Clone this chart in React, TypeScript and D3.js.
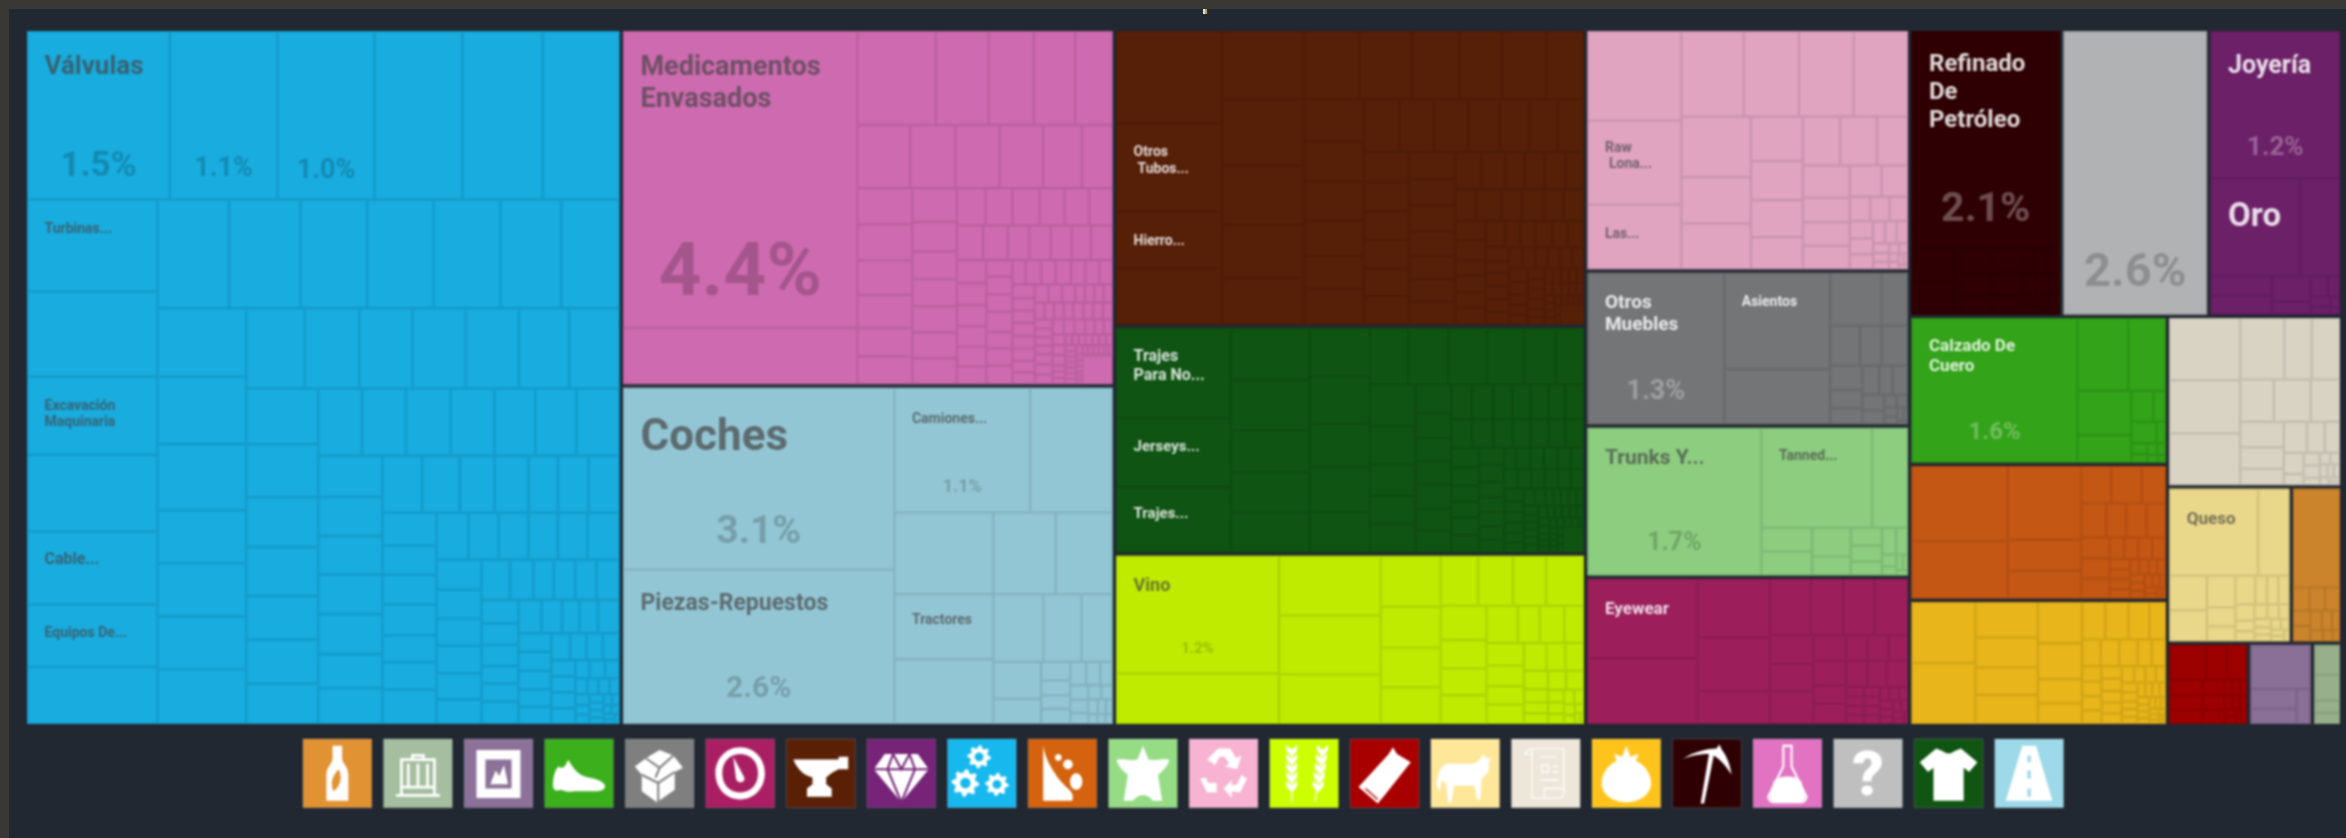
import React from 'react'
import * as d3 from 'd3'

/* page + treemap frame */
const width = 2346
const height = 838
const frame = { left: 27, top: 31, width: 2313, height: 693 }
const groupGap = 3.5

/* leaf shares, thousands of square px read strip by strip, same order as the squarify strips */
const machinery = [
    24.0, 18.1, 16.3, 14.75, 13.5, 12.9,
    11.96, 11.05, 10.18, 9.95, 9.5, 8.1, 7.42,
    7.75, 7.75, 7.2, 7.2, 7.2, 6.6, 6.3,
    6.06, 5.98, 5.85, 4.72, 4.69, 4.69, 4.85,
    4.68, 4.39, 4.25, 4.25, 4.25, 4.03, 4.03,
    4.0, 3.8, 3.59, 3.52, 3.15, 3.12, 2.92,
    2.95, 2.95, 3.0, 2.95, 2.75, 2.75, 2.9,
    2.62, 2.51, 2.48, 2.51, 2.56, 2.18, 2.3,
    2.24, 2.13, 1.96, 1.92, 1.66, 1.73, 1.75,
    1.78, 1.58, 1.6, 1.65, 1.45, 1.48, 1.85,
    1.5, 1.43, 1.4, 1.39, 1.4, 1.5,
    1.33, 1.32, 1.21, 1.23, 1.17, 1.12,
    1.14, 0.93, 0.82, 0.86, 0.85, 0.92,
    0.87, 0.78, 0.78, 0.64, 0.66, 0.83,
    0.77, 0.67, 0.58, 0.61, 0.71,
    0.62, 0.62, 0.6, 0.58, 0.56,
    0.51, 0.44, 0.44, 0.45,
    0.39, 0.39, 0.38, 0.38,
    0.26, 0.28, 0.26,
    0.19, 0.18, 0.17, 0.16, 0.15, 0.14, 0.13, 0.12, 0.11, 0.1, 0.09, 0.09, 0.08, 0.07, 0.07, 0.06, 0.05, 0.05,
]
const chemicals = [
    68.93, 13.09,
    7.29, 4.92, 4.22, 3.85, 3.48,
    3.3, 2.83, 2.75, 2.73, 2.42, 1.92,
    1.96, 1.96, 1.89, 1.79, 1.54, 1.52,
    1.49, 1.29, 1.23, 1.19, 1.15, 1.13, 1.15,
    1.06, 0.99, 1.0, 0.92, 0.91, 0.86, 0.9,
    0.85, 0.74, 0.74, 0.71, 0.67, 0.74, 0.67,
    0.65, 0.62, 0.6, 0.58, 0.52, 0.43, 0.45,
    0.45, 0.52, 0.42, 0.44, 0.48, 0.32, 0.38, 0.35,
    0.37, 0.35, 0.34, 0.32, 0.3, 0.28, 0.27,
    0.29, 0.28, 0.27, 0.26, 0.26, 0.25, 0.24, 0.24,
    0.17, 0.17, 0.17, 0.16, 0.16, 0.16, 0.16, 0.16,
    0.17, 0.16, 0.16, 0.16, 0.16, 0.15, 0.15, 0.15,
    0.18, 0.18, 0.17, 0.17, 0.16, 0.16,
    0.14, 0.14, 0.13, 0.13, 0.13, 0.13,
    0.08, 0.08, 0.08, 0.07, 0.07, 0.07, 0.07, 0.07,
    0.07, 0.07, 0.07, 0.06, 0.06, 0.06, 0.06, 0.06,
    0.06, 0.06, 0.05, 0.05, 0.05, 0.05, 0.04, 0.04,
    0.04, 0.04, 0.04, 0.03, 0.03, 0.03, 0.03, 0.03,
]
const chemicalsRest = 0.8
const transport = [
    49.33, 41.8,
    16.9, 10.29,
    8.06, 6.42, 6.4,
    5.09, 4.63,
    3.36, 2.58, 2.09,
    1.76, 1.2,
    0.55, 0.43, 0.4, 0.44,
    0.37, 0.33, 0.29,
    0.26, 0.24, 0.2, 0.18, 0.16, 0.14, 0.12, 0.1, 0.09, 0.08, 0.07,
]
const metals = [
    9.72, 9.29, 5.95, 5.9,
    5.51, 5.39, 4.76, 4.35, 3.72,
    3.73, 3.57, 3.2, 2.9, 3.01, 2.5,
    2.49, 2.38, 2.3, 2.09, 1.98, 2.09,
    1.85, 1.8, 1.8, 1.63, 1.54, 1.49, 1.37,
    1.35, 1.3, 1.28, 1.28, 1.26, 1.25,
    1.24, 1.2, 1.18, 1.13, 1.04, 1.04, 1.03,
    0.98, 0.89, 0.72, 0.75, 0.78, 0.68,
    0.65, 0.78, 0.65, 0.69, 0.61, 0.63, 0.59,
    0.61, 0.47, 0.5, 0.47, 0.51, 0.5,
    0.39, 0.38, 0.44, 0.39, 0.42, 0.33, 0.27,
    0.3, 0.3, 0.29, 0.29, 0.28, 0.28,
    0.26, 0.26, 0.26, 0.25, 0.25, 0.24,
    0.19, 0.18, 0.18, 0.18, 0.17, 0.17, 0.16,
    0.13, 0.13, 0.12, 0.12, 0.12, 0.11, 0.11, 0.1,
    0.1, 0.09, 0.09, 0.09, 0.08, 0.08, 0.08, 0.07,
    0.07, 0.06, 0.06, 0.06, 0.05, 0.05, 0.05,
]
const metalsRest = 0.43
const textiles = [
    10.32, 7.9, 7.48,
    4.12, 4.0, 3.35, 3.2, 3.09,
    2.92, 2.81, 2.62, 2.67, 2.42,
    2.2, 2.26, 2.16, 2.11, 1.79, 1.6,
    1.89, 1.78, 1.41, 1.28, 1.3,
    1.03, 0.89, 0.82, 0.82, 0.87, 0.77, 0.79,
    0.72, 0.72, 0.65, 0.65, 0.61, 0.57, 0.65,
    0.6, 0.6, 0.57, 0.51, 0.5, 0.48, 0.54,
    0.55, 0.51, 0.44, 0.44, 0.47, 0.48,
    0.45, 0.42, 0.4, 0.38, 0.36, 0.34, 0.32, 0.25,
    0.3, 0.29, 0.29, 0.28, 0.28, 0.27,
    0.27, 0.27, 0.26, 0.26, 0.26, 0.25,
    0.21, 0.2, 0.2, 0.19, 0.19, 0.18, 0.18,
    0.13, 0.13, 0.13, 0.13, 0.13, 0.13,
    0.11, 0.11, 0.11, 0.11, 0.11, 0.11,
    0.09, 0.09, 0.09, 0.09, 0.09, 0.09, 0.09,
    0.07, 0.07, 0.07, 0.07, 0.07, 0.07, 0.07,
    0.05, 0.05, 0.05, 0.05, 0.05, 0.05, 0.05, 0.05,
]
const textilesRest = 0.5
const agriculture = [
    19.15, 8.23,
    6.07, 5.98, 5.04,
    3.06, 2.45, 2.37, 2.2,
    1.87, 1.74, 1.65, 1.89,
    1.57, 1.3, 1.22, 1.32,
    1.16, 0.81, 0.91, 0.73,
    0.85, 0.77, 0.68, 0.73,
    0.63, 0.53, 0.52,
    0.44, 0.32, 0.26, 0.26,
    0.34, 0.34,
    0.2, 0.18, 0.16, 0.15, 0.14, 0.12, 0.1, 0.08, 0.06, 0.04,
]
const plastics = [
    8.4, 7.9, 6.05,
    5.35, 4.73, 4.7, 4.65,
    4.2, 3.22, 3.18,
    2.31, 2.03, 1.93, 1.67,
    1.81, 1.79, 1.51,
    1.51, 1.15, 1.1, 1.1,
    1.0, 0.83,
    0.5, 0.47, 0.45,
    0.4, 0.37, 0.35,
    0.26, 0.26, 0.25,
    0.16, 0.14, 0.12, 0.1, 0.09, 0.08, 0.07, 0.06, 0.05, 0.04,
]
const furniture = [
    20.75,
    10.22, 5.84,
    2.72, 1.4,
    1.2, 0.87, 1.06,
    0.78, 0.59, 0.52,
    0.49, 0.39, 0.45,
    0.35, 0.3,
    0.16, 0.14, 0.12, 0.1, 0.08, 0.06, 0.04,
]
const hides = [
    25.68,
    11.06, 3.59,
    1.21, 1.21,
    1.12, 0.73,
    0.56, 0.5, 0.43,
    0.38, 0.32,
    0.17, 0.13, 0.1, 0.08, 0.06,
]
const instruments = [
    8.69, 7.23,
    4.22, 3.88, 2.36,
    2.32, 1.81, 1.75, 1.89,
    1.24, 1.19, 1.41,
    0.82, 0.82, 0.59, 0.66,
    0.54, 0.54, 0.48,
    0.56, 0.5, 0.56,
    0.17, 0.17, 0.16, 0.16,
    0.15, 0.15, 0.14, 0.14, 0.13, 0.13, 0.12, 0.12, 0.1, 0.1, 0.09, 0.08, 0.07, 0.06, 0.05,
]
const minerals = [
    32.06,
    1.46, 1.4,
    0.99, 0.76, 0.7,
    0.78, 0.71, 0.59,
    0.31, 0.39,
    0.3, 0.28, 0.25, 0.22, 0.2, 0.18, 0.15, 0.13, 0.1,
]
const services = [41.0]
const precious = [19.09, 8.77, 3.91, 1.2, 1.18, 1.0, 0.5, 0.36, 0.26, 0.2, 0.15, 0.1, 0.07]
const footwear = [
    24.2,
    3.72, 2.76,
    2.38, 1.5,
    0.69, 0.38,
    0.54, 0.2, 0.18, 0.14, 0.12, 0.1, 0.08, 0.06,
]
const stone = [
    7.14, 5.48,
    5.37, 2.26, 2.01,
    1.1, 1.14, 0.88,
    0.84, 0.67, 0.69, 0.65,
    0.58, 0.57, 0.56,
    0.31, 0.3, 0.3, 0.29,
    0.21, 0.2, 0.2, 0.19,
    0.14, 0.14, 0.13, 0.13, 0.12, 0.12, 0.11, 0.1, 0.09, 0.08, 0.07, 0.06, 0.05, 0.05,
]
const vegetables = [
    3.83, 3.82,
    2.18, 1.84, 1.7, 1.78,
    1.78, 1.56, 1.05, 0.9,
    0.85, 0.85, 0.77, 0.6,
    0.49, 0.49, 0.49, 0.37, 0.37,
    0.29, 0.28, 0.27, 0.26, 0.25,
    0.24, 0.23, 0.22, 0.21, 0.2,
    0.18, 0.17, 0.16, 0.15, 0.14,
    0.12, 0.12, 0.11, 0.11, 0.1, 0.1, 0.09, 0.09, 0.08, 0.08, 0.07, 0.07, 0.06, 0.06, 0.05, 0.05, 0.04, 0.04, 0.03, 0.03,
]
const paper = [
    4.4, 3.74, 3.68,
    2.71, 1.68, 1.73,
    1.43, 1.57, 1.24,
    1.11, 0.94,
    0.72, 0.72, 0.55,
    0.47, 0.42,
    0.22, 0.2, 0.2,
    0.12, 0.12, 0.11, 0.1, 0.08, 0.08, 0.07, 0.05, 0.04,
]
const animal = [
    7.54, 2.66,
    1.28, 1.14,
    0.88, 0.53, 0.41, 0.56,
    0.33, 0.32, 0.31, 0.3,
    0.2, 0.19, 0.18, 0.16, 0.15, 0.14, 0.12, 0.11, 0.1, 0.09, 0.08, 0.07, 0.06,
]
const foodstuffs = [4.7, 0.39, 0.36, 0.35, 0.27, 0.27, 0.23, 0.2, 0.16, 0.14, 0.11, 0.08]
const wood = [1.28, 0.74, 0.7, 0.5, 0.5, 0.46, 0.33, 0.33, 0.31, 0.12, 0.12, 0.11, 0.11, 0.1, 0.1, 0.09, 0.09, 0.08, 0.08]
const arts = [2.66, 0.92, 0.7, 0.49]
const weapons = [0.78, 0.67, 0.32, 0.29]

const groupKeys = [
    'machinery', 'chemicals', 'transport', 'metals', 'textiles', 'agriculture', 'plastics', 'furniture',
    'hides', 'instruments', 'minerals', 'services', 'precious', 'footwear', 'stone', 'vegetables',
    'paper', 'animal', 'foodstuffs', 'wood', 'arts', 'weapons',
]
const groupValues = [
    machinery, chemicals, transport, metals, textiles, agriculture, plastics, furniture,
    hides, instruments, minerals, services, precious, footwear, stone, vegetables,
    paper, animal, foodstuffs, wood, arts, weapons,
]
/* whole-group shares, read from the outer tiles with their share of the gutter */
const groupTotals = [
    415.5, 176.07, 167.7, 140.1, 107.5, 81.03, 78.4, 50.3,
    49.0, 48.2, 43.67, 42.26, 38.2, 38.2, 35.07, 32.37,
    29.75, 19.33, 7.9, 6.72, 5.27, 2.43,
]
const groupRest: Record<string, number> = { chemicals: chemicalsRest, metals: metalsRest, textiles: textilesRest }
const groupColors = [
    '#18acdf', '#ce6bb0', '#93c6d4', '#561f08', '#105413', '#bfeb00', '#e0a4c1', '#747576',
    '#8ccd80', '#9c1f5c', '#2e0003', '#b0b2b3', '#6c2068', '#33a319', '#c55714', '#e8b61a',
    '#d8d3c3', '#e9d78a', '#cc842c', '#9c0100', '#8a6f96', '#97b08b',
]
const lightTextGroups = ['metals', 'textiles', 'furniture', 'instruments', 'minerals', 'precious', 'footwear']

/* tile captions: [group, leaf, lines, percent] */
const captions: [string, number, string[], string][] = [
    ['machinery', 0, ['Válvulas'], '1.5%'],
    ['machinery', 1, [], '1.1%'],
    ['machinery', 2, [], '1.0%'],
    ['machinery', 6, ['Turbinas...'], ''],
    ['machinery', 8, ['Excavación', 'Maquinaria'], ''],
    ['machinery', 10, ['Cable...'], ''],
    ['machinery', 11, ['Equipos De...'], ''],
    ['chemicals', 0, ['Medicamentos', 'Envasados'], '4.4%'],
    ['transport', 0, ['Coches'], '3.1%'],
    ['transport', 1, ['Piezas-Repuestos'], '2.6%'],
    ['transport', 2, ['Camiones...'], '1.1%'],
    ['transport', 5, ['Tractores'], ''],
    ['metals', 1, ['Otros', ' Tubos...'], ''],
    ['metals', 2, ['Hierro...'], ''],
    ['textiles', 0, ['Trajes', 'Para No...'], ''],
    ['textiles', 1, ['Jerseys...'], ''],
    ['textiles', 2, ['Trajes...'], ''],
    ['agriculture', 0, ['Vino'], '1.2%'],
    ['plastics', 1, ['Raw', ' Lona...'], ''],
    ['plastics', 2, ['Las...'], ''],
    ['furniture', 0, ['Otros', 'Muebles'], '1.3%'],
    ['furniture', 1, ['Asientos'], ''],
    ['hides', 0, ['Trunks Y...'], '1.7%'],
    ['hides', 1, ['Tanned...'], ''],
    ['instruments', 0, ['Eyewear'], ''],
    ['minerals', 0, ['Refinado', 'De', 'Petróleo'], '2.1%'],
    ['services', 0, [], '2.6%'],
    ['precious', 0, ['Joyería'], '1.2%'],
    ['precious', 1, ['Oro'], ''],
    ['footwear', 0, ['Calzado De', 'Cuero'], '1.6%'],
    ['animal', 0, ['Queso'], ''],
]
/* caption styles, parallel to captions: [name size, name baseline offset, percent size, percent rise] */
const captionStyles = [
    [26, 43, 35, 24], [0, 0, 27, 24], [0, 0, 27, 22], [14, 33, 0, 0], [14, 33, 0, 0], [16, 33, 0, 0], [14, 32, 0, 0],
    [27, 44, 75, 33], [44, 62, 39, 27], [23, 40, 30, 27], [14, 35, 18, 21], [14, 30, 0, 0],
    [14, 33, 0, 0], [14, 33, 0, 0], [16, 33, 0, 0], [15, 33, 0, 0], [15, 31, 0, 0], [18, 35, 15, 20],
    [14, 31, 0, 0], [14, 33, 0, 0], [19, 35, 27, 25], [14, 33, 0, 0], [21, 36, 25, 25], [14, 32, 0, 0], [17, 35, 0, 0],
    [24, 40, 41, 27], [0, 0, 47, 29], [25, 42, 26, 23], [33, 48, 0, 0], [17, 33, 24, 24], [17, 35, 0, 0],
]

/* legend row */
const legendColors = [
    '#e19232', '#a5be9f', '#8c7199', '#3baf1c', '#7f7f7f', '#aa1f63', '#592006', '#762378', '#17b8ee', '#d4620f', '#96dc85',
    '#f7b3d1', '#ccff00', '#a80000', '#ffe799', '#ede6d9', '#ffc41c', '#2e0003', '#e173c2', '#bfbfbf', '#105512', '#9dd9e8',
]
const legendIcons = [
    'bottle', 'crate', 'stamp', 'shoe', 'box', 'gauge', 'anvil', 'diamond', 'gears', 'rocks', 'hide',
    'recycle', 'wheat', 'lumber', 'cow', 'scroll', 'tomato', 'pick', 'flask', 'question', 'shirt', 'road',
]
const legendBand = d3.scaleBand<number>().domain(d3.range(legendIcons.length)).range([303, 2063.5]).paddingInner(0.147)
const legendTop = 739

/* small helpers for the round glyphs */
const gear = (cx: number, cy: number, r: number) => {
    const pts = d3.range(32).map((i) => {
        const a = (i / 32) * 2 * Math.PI
        const rr = i % 4 < 2 ? r : r * 0.76
        return `${(cx + rr * Math.cos(a)).toFixed(1)} ${(cy + rr * Math.sin(a)).toFixed(1)}`
    })
    const h = r * 0.38
    return `M${pts.join('L')}z M${cx - h} ${cy}a${h} ${h} 0 1 0 ${2 * h} 0a${h} ${h} 0 1 0 ${-2 * h} 0z`
}
const wheat = (x: number, lean: number) =>
    d3
        .range(5)
        .map((i) => {
            const y = 18 + i * 13
            const cx = x + lean * (90 - y)
            return `M${cx} ${y + 8}l-8 -9v-9l8 8zM${cx} ${y + 8}l8 -9v-9l-8 8z`
        })
        .join('')

/* d = filled white (evenodd), s = white stroke, c = stroke in the tile colour */
const glyphs: Record<string, { d?: string; s?: string; c?: string; w?: number }> = {
    bottle: { d: 'M43 10h14v18c0 8 9 12 9 24v38H34V52c0-12 9-16 9-24zM52 44c-10 10-12 20-8 32c10-6 14-20 8-32z' },
    crate: { s: 'M26 30h48v52H26zM18 82h64M36 36v34M50 36v34M64 36v34M26 70h48M42 30v-6h16v6', w: 4 },
    stamp: { d: 'M18 16h64v70H18zM31 30v42h38V30zM38 66l8-20 5 8 7-16 6 28z' },
    shoe: { d: 'M12 68c0-10 2-22 8-28c6 4 10 2 14-10c6 10 14 24 30 26c12 2 22 6 24 12c0 6-6 8-14 8H42c-8 2-14 0-18-2c-4 2-12 2-12-6z' },
    box: { d: 'M50 16l20 8 14 18-12 6v26L46 92 24 76V52L14 40l16-12z', c: 'M24 52l24 12 24-16M48 64v28M30 28l20 14 20-18M50 42l-6 14', w: 3 },
    gauge: { d: 'M50 12c22 0 36 18 36 38S72 88 50 88 14 70 14 50s14-38 36-38zM50 22c-16 0-26 12-26 28s10 28 26 28 26-12 26-28-10-28-26-28zM40 26l16 30c2 8-10 10-12 2z' },
    anvil: { d: 'M10 30h66v-4h14v18H76c-8 4-14 8-18 12v10l8 6v12H30V72l8-6V56C26 54 16 44 10 30z' },
    diamond: { d: 'M26 22h48l16 22-40 48-40-48z', c: 'M10 44h80M38 22l-8 22 20 48 20-48-8-22M38 22l12 22 12-22', w: 3 },
    gears: { d: gear(46, 26, 17) + gear(26, 64, 20) + gear(72, 66, 17) },
    rocks: { d: 'M22 10c2 12 6 22 12 32c6 10 14 22 26 32c6 6 6 12 4 16H22zM44 22a5 5 0 1 0 .1 0zM58 30a7 7 0 1 0 .1 0zM70 50a9 12 0 1 0 .1 0z' },
    hide: { d: 'M50 10l8 20c8 2 22-2 30 0c0 8-10 18-16 22c2 12 4 26 6 38H64c-4-6-8-8-14-8s-10 2-14 8H22c2-12 4-26 6-38C22 48 12 38 12 30c8-2 22 2 30 0z' },
    recycle: { d: 'M84 58l-10 20-12-2v10L50 72l12-12v8l8-2 6-14zM16 58l10 20h14v-14H28l-4-8zM42 14h18l8 14 8-4-6 20-18-4 6-4-6-10H44l-6 12-12-8z' },
    wheat: { s: 'M32 92V14M66 92l10-76', d: wheat(32, 0) + wheat(68, 0.12), w: 2 },
    lumber: { d: 'M12 70L56 22l6-10 6 10 20 12-38 48-10 12z', c: 'M22 72l18 16', w: 2 },
    cow: { d: 'M8 66c2-14 6-28 16-30h38c6-2 12-10 16-14l2 6h8l-4 8c2 6 0 12-4 16l-6 6-2 30h-5l-3-20H34l-4 24h-5l-3-28-6-4-3 16z' },
    scroll: { s: 'M30 14h46v58M30 14c-6 0-10 4-10 8h10M30 14v72h36M76 72H48v14h22c8 0 8-14 6-14M42 26h24M44 38h10v10H44zM60 40h8M60 48h8M42 60h26', w: 2 },
    tomato: { d: 'M50 10l6 16 12-4-4 10c14 6 22 20 22 32 0 16-16 28-36 28S14 80 14 64c0-12 8-26 22-32l-4-10 12 4z' },
    pick: { d: 'M14 30c16-12 40-16 50-16l4-6 4 8c8 10 12 24 14 36c-8-12-16-22-26-28l-14 70h-5l12-72c-12 0-28 2-39 8z' },
    flask: { s: 'M44 10h12v30l22 44c0 5-4 8-8 8H30c-4 0-8-3-8-8l22-44z', d: 'M30 62c6-10 34-10 40 0l6 22c0 4-4 8-8 8H32c-4 0-8-4-8-8z', w: 3 },
    shirt: { d: 'M32 14l10 4c4 4 12 4 16 0l10-4 24 20-12 14-8-6v48H28V42l-8 6L8 34z' },
    road: { d: 'M40 10h20l24 80H16z', c: 'M50 24v10M50 46v12M50 72v12', w: 5 },
}

/* nested squarify layout, no sorting: strips stay in reading order */
const tree = {
    name: 'root',
    children: groupKeys.map((key, i) => {
        const leaves = groupValues[i].concat(groupRest[key] ? [groupRest[key]] : [])
        const scale = groupTotals[i] / d3.sum(leaves)
        return {
            name: key,
            color: groupColors[i],
            children: leaves.map((value, l) => ({
                value: value * scale,
                rest: l >= groupValues[i].length,
            })),
        }
    }),
}
const root: any = d3
    .treemap()
    .size([frame.width, frame.height])
    .tile(d3.treemapSquarify)
    .paddingInner((node: any) => (node.depth === 0 ? groupGap : 0))(
    d3.hierarchy(tree as any).sum((d: any) => d.value || 0)
)
const groups: any[] = root.children

const Icon = ({ index }: { index: number }) => {
    const key = legendIcons[index]
    const size = legendBand.bandwidth()
    const color = legendColors[index]
    const g = glyphs[key]
    return (
        <g transform={`translate(${legendBand(index)}, ${legendTop})`}>
            <rect width={size} height={size} fill={color} stroke="#ffffff" strokeOpacity={0.15} />
            {key === 'question' ? (
                <text x={size / 2} y={size * 0.82} textAnchor="middle" fontSize={62} fontWeight={900} fontFamily="Roboto" fill="#fff">
                    ?
                </text>
            ) : (
                <g transform={`scale(${size / 100})`}>
                    {g.d && <path d={g.d} fill="#fff" fillRule="evenodd" />}
                    {g.s && <path d={g.s} fill="none" stroke="#fff" strokeWidth={g.w || 3} />}
                    {g.c && <path d={g.c} fill="none" stroke={color} strokeWidth={g.w || 3} />}
                </g>
            )}
        </g>
    )
}

const App = () => (
    <svg width={width} height={height} style={{ position: 'fixed', left: 0, top: 0 }}>
        <rect width={width} height={height} fill="#3a3835" />
        <rect x={9} y={9} width={width} height={height} fill="#212832" />
        <rect x={1203} y={9} width={2} height={5} fill="#cfe3ea" />
        <rect x={1205} y={9} width={2} height={5} fill="#d9963a" />

        {/* the reference is a soft upscale, so everything but the page is blurred a little */}
        <g style={{ filter: 'blur(0.8px)' }}>
            <g transform={`translate(${frame.left}, ${frame.top})`}>
                {/* tiles */}
                {groups.map((group) => {
                    const fill = group.data.color
                    const line = d3.color(fill)!.darker(0.32).formatHex()
                    return (
                        <g key={group.data.name}>
                            <rect
                                x={group.x0}
                                y={group.y0}
                                width={group.x1 - group.x0}
                                height={group.y1 - group.y0}
                                fill={fill}
                            />
                            {group.children.map((leaf: any, i: number) =>
                                leaf.data.rest ? null : (
                                    <rect
                                        key={i}
                                        x={leaf.x0 + 0.6}
                                        y={leaf.y0 + 0.6}
                                        width={Math.max(0, leaf.x1 - leaf.x0 - 1.2)}
                                        height={Math.max(0, leaf.y1 - leaf.y0 - 1.2)}
                                        fill={fill}
                                        stroke={line}
                                        strokeWidth={1.2}
                                    />
                                )
                            )}
                        </g>
                    )
                })}
                {/* captions */}
                {captions.map(([key, leafIndex, lines, share], i) => {
                    const group = groups[groupKeys.indexOf(key)]
                    const leaf = group.children[leafIndex]
                    const [nameSize, nameDrop, shareSize, shareRise] = captionStyles[i]
                    const light = lightTextGroups.includes(key)
                    return (
                        <g key={i} fontFamily="Roboto, 'Noto Sans', sans-serif" fontWeight={700}>
                            {lines.map((text, l) => (
                                <text
                                    key={l}
                                    x={leaf.x0 + 17.5 + (text.startsWith(' ') ? 4 : 0)}
                                    y={leaf.y0 + nameDrop + l * nameSize * 1.17}
                                    fontSize={nameSize}
                                    fill={light ? '#fff' : '#444'}
                                    fillOpacity={light ? 0.85 : 0.7}
                                >
                                    {text.trim()}
                                </text>
                            ))}
                            {share && (
                                <text
                                    x={(leaf.x0 + leaf.x1) / 2}
                                    y={leaf.y1 - shareRise}
                                    textAnchor="middle"
                                    fontSize={shareSize}
                                    fill={light ? '#fff' : '#000'}
                                    fillOpacity={light ? 0.3 : 0.2}
                                >
                                    {share}
                                </text>
                            )}
                        </g>
                    )
                })}
            </g>

            {legendIcons.map((_, i) => (
                <Icon key={i} index={i} />
            ))}
        </g>
    </svg>
)

export default App
